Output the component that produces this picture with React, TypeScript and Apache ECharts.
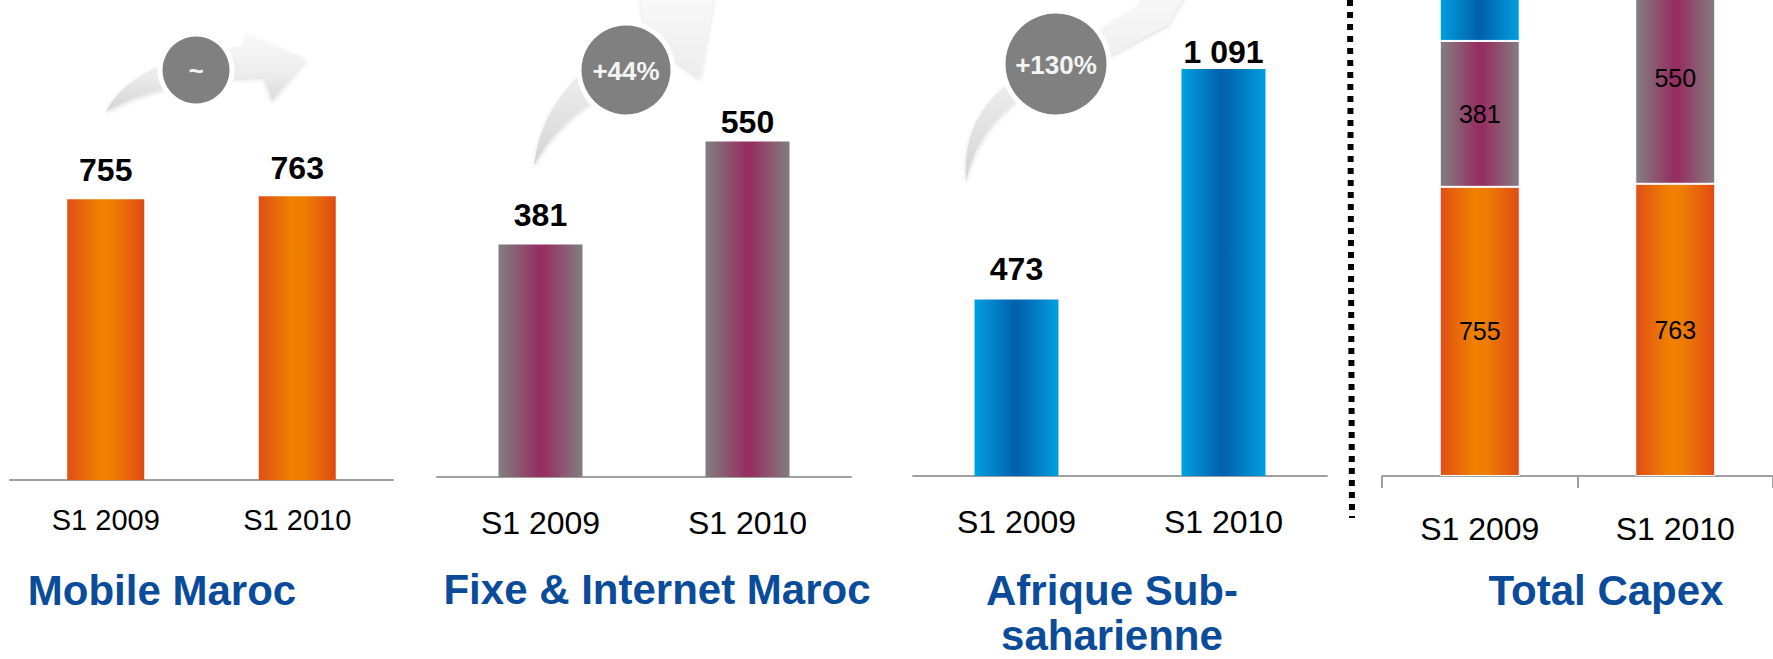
import React, { useEffect, useRef } from 'react';
import * as echarts from 'echarts';

const categories = ['S1 2009', 'S1 2010'];
const mobileMaroc = [755, 763];
const fixeInternetMaroc = [381, 550];
const afriqueSubsaharienne = [473, 1091];
const growthLabels = ['~', '+44%', '+130%'];
const panelTitles = ['Mobile Maroc', 'Fixe & Internet Maroc', 'Afrique Sub-', 'saharienne', 'Total Capex'];

const fmt = (v: number) => String(v).replace(/\B(?=(\d{3})+(?!\d))/g, ' ');

const ARROW1 = 'M 106 112 C 120 80 170 52 245 46 L 246 33 L 306 59 L 272 101 L 264 77 C 200 77 140 90 106 112 Z';
const ARROW2 = 'M 534 166 C 540 110 575 65 645 30 L 640 -5 L 715 -10 L 700 78 L 672 58 C 610 85 560 115 534 166 Z';
const ARROW3 = 'M 966 182 C 962 120 990 80 1090 35 L 1140 5 L 1150 -20 L 1185 -5 L 1168 24 L 1110 55 C 1020 85 980 120 966 182 Z';

echarts.graphic.registerShape('arrowA', echarts.graphic.extendPath(ARROW1, {}));
echarts.graphic.registerShape('arrowB', echarts.graphic.extendPath(ARROW2, {}));
echarts.graphic.registerShape('arrowC', echarts.graphic.extendPath(ARROW3, {}));

const SANS = '"Liberation Sans", Arial, sans-serif';

export default function App() {
  const ref = useRef<HTMLDivElement>(null);
  useEffect(() => {
    document.body.style.margin = '0';
    const chart = echarts.init(ref.current!, null, { renderer: 'svg' });
    const hgrad = (stops: [number, string][]) =>
      new echarts.graphic.LinearGradient(0, 0, 1, 0, stops.map(([offset, color]) => ({ offset, color })));
    const orange = () => hgrad([[0, '#e04f17'], [0.42, '#ef8000'], [0.58, '#ee7e02'], [1, '#e04b14']]);
    const purple = () => hgrad([[0, '#808080'], [0.48, '#952f62'], [0.55, '#963062'], [1, '#827e80']]);
    const blue = () => hgrad([[0, '#00a0e0'], [0.48, '#0061ab'], [0.55, '#0065af'], [1, '#009fe0']]);

    const grids = [
      { left: 10, top: 0, width: 383, height: 480 },
      { left: 437, top: 0, width: 414, height: 477 },
      { left: 913, top: 0, width: 414, height: 476 },
      { left: 1382, top: 0, width: 404, height: 476 },
    ];
    const yMax = [480 / 0.372, 477 / 0.61, 476 / 0.373, 476 / 0.383];
    const labelFont = [29, 32, 32, 32];
    const labelMargin = [25, 30, 30, 37];
    const gapsP1 = [13, 12];
    const gapsP2 = [14, 4];
    const gapsP3 = [15, 1];

    const topLabel = {
      show: true,
      position: 'top',
      color: '#000',
      fontSize: 32,
      fontWeight: 'bold',
      fontFamily: SANS,
      formatter: (p: any) => fmt(p.value),
    };
    const innerLabel = {
      show: true,
      position: 'inside',
      color: '#000',
      fontSize: 25,
      fontFamily: SANS,
      formatter: (p: any) => fmt(p.value),
    };
    const withGaps = (vals: number[], gaps: number[]) =>
      vals.map((v, i) => ({ value: v, label: { distance: gaps[i] } }));

    const arrowFill = () =>
      new echarts.graphic.LinearGradient(0, 0, 0, 1, [
        { offset: 0, color: '#fafafa' },
        { offset: 0.55, color: '#ebebeb' },
        { offset: 1, color: '#d4d4d4' },
      ]);
    const arrowStyle = () => ({
      fill: arrowFill(),
      shadowBlur: 4,
      shadowColor: 'rgba(0,0,0,0.14)',
      shadowOffsetY: 2,
    });
    const circles = [
      { cx: 196, cy: 70, r: 36 },
      { cx: 626, cy: 70, r: 47 },
      { cx: 1056, cy: 64, r: 53 },
    ];
    const titleStyle = (text: string) => ({
      text,
      fill: '#0a4c9a',
      fontSize: 42,
      fontWeight: 'bold',
      fontFamily: SANS,
      align: 'center',
      verticalAlign: 'middle',
    });

    const option: any = {
      animation: false,
      grid: grids,
      xAxis: grids.map((_, i) => ({
        type: 'category',
        gridIndex: i,
        data: categories,
        axisLine: { lineStyle: { color: '#a0a0a0', width: 2 } },
        axisTick: { show: i === 3, length: 12, lineStyle: { color: '#a0a0a0', width: 2 } },
        axisLabel: {
          color: '#000',
          fontSize: labelFont[i],
          fontFamily: SANS,
          margin: labelMargin[i],
          interval: 0,
        },
      })),
      yAxis: grids.map((_, i) => ({
        type: 'value',
        gridIndex: i,
        min: 0,
        max: yMax[i],
        show: false,
        splitLine: { show: false },
      })),
      series: [
        {
          type: 'bar', xAxisIndex: 0, yAxisIndex: 0, barWidth: 77,
          data: withGaps(mobileMaroc, gapsP1),
          itemStyle: { color: orange() }, label: topLabel,
        },
        {
          type: 'bar', xAxisIndex: 1, yAxisIndex: 1, barWidth: 84,
          data: withGaps(fixeInternetMaroc, gapsP2),
          itemStyle: { color: purple() }, label: topLabel,
        },
        {
          type: 'bar', xAxisIndex: 2, yAxisIndex: 2, barWidth: 84,
          data: withGaps(afriqueSubsaharienne, gapsP3),
          itemStyle: { color: blue() }, label: topLabel,
        },
        {
          type: 'bar', xAxisIndex: 3, yAxisIndex: 3, barWidth: 80, stack: 'total', clip: false,
          data: mobileMaroc,
          itemStyle: { color: orange(), borderColor: '#fff', borderWidth: 1 }, label: innerLabel,
        },
        {
          type: 'bar', xAxisIndex: 3, yAxisIndex: 3, barWidth: 80, stack: 'total', clip: false,
          data: fixeInternetMaroc,
          itemStyle: { color: purple(), borderColor: '#fff', borderWidth: 1 }, label: innerLabel,
        },
        {
          type: 'bar', xAxisIndex: 3, yAxisIndex: 3, barWidth: 80, stack: 'total', clip: false,
          data: afriqueSubsaharienne,
          itemStyle: { color: blue(), borderColor: '#fff', borderWidth: 1 }, label: { show: false },
        },
      ],
      graphic: [
        { type: 'arrowA', x: 0, y: 0, style: arrowStyle(), z: 1 },
        { type: 'arrowB', x: 0, y: 0, style: arrowStyle(), z: 1 },
        { type: 'arrowC', x: 0, y: 0, style: arrowStyle(), z: 1 },
        ...circles.map((c) => ({
          type: 'circle',
          shape: c,
          style: { fill: '#808080', stroke: '#ffffff', lineWidth: 5 },
          z: 2,
        })),
        ...circles.map((c, i) => ({
          type: 'text',
          x: c.cx,
          y: c.cy + 1,
          style: {
            text: growthLabels[i],
            fill: '#f4f4f4',
            fontSize: 26,
            fontWeight: 'bold',
            fontFamily: SANS,
            align: 'center',
            verticalAlign: 'middle',
          },
          z: 3,
        })),
        {
          type: 'line',
          shape: { x1: 1350, y1: 0, x2: 1352, y2: 518 },
          style: { stroke: '#000', lineWidth: 6, lineDash: [6, 6] },
        },
        { type: 'text', x: 162, y: 590, style: titleStyle(panelTitles[0]) },
        { type: 'text', x: 657, y: 589, style: titleStyle(panelTitles[1]) },
        { type: 'text', x: 1112, y: 590, style: titleStyle(panelTitles[2]) },
        { type: 'text', x: 1112, y: 635, style: titleStyle(panelTitles[3]) },
        { type: 'text', x: 1606, y: 590, style: titleStyle(panelTitles[4]) },
      ],
    };
    chart.setOption(option);
    return () => chart.dispose();
  }, []);
  return <div ref={ref} style={{ width: 1773, height: 659 }} />;
}
